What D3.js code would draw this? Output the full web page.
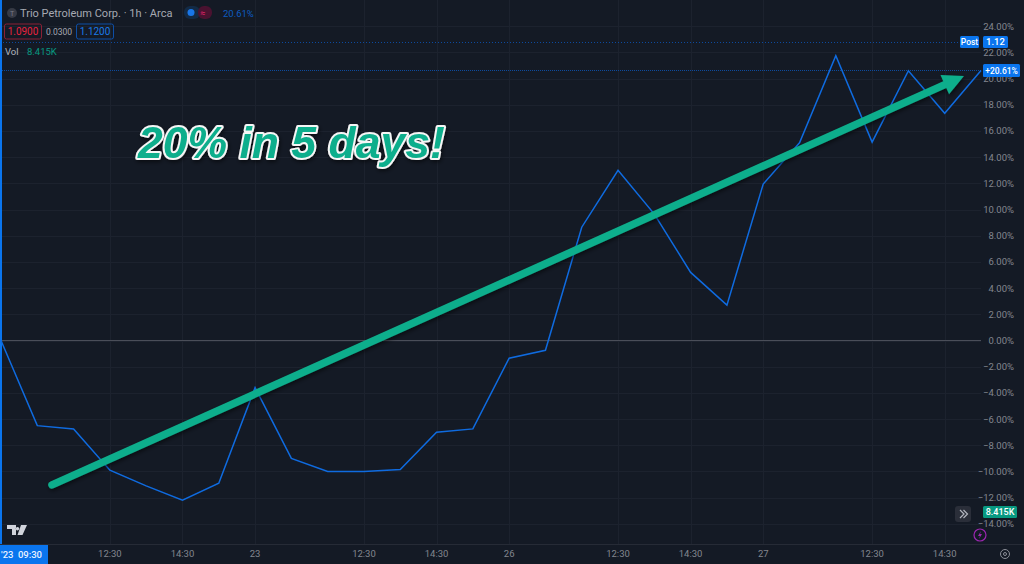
<!DOCTYPE html>
<html><head><meta charset="utf-8">
<script src="https://cdn.jsdelivr.net/npm/d3@7"></script>
<style>html,body{margin:0;padding:0;background:#141a25;overflow:hidden}svg{display:block}text{font-family:"Roboto","Liberation Sans",sans-serif}</style>
</head><body><svg id="c" width="1024" height="564"></svg>
<script>
const pctValues=[0,-6.5,-6.75,-9.9,-11.1,-12.2,-10.9,-3.6,-9,-10,-10,-9.85,-7,-6.75,-1.35,-0.75,8.65,13,9.65,5.2,2.7,11.95,15.1,21.75,15.15,20.6,17.35,20.61];
const yTicks=[24,22,20,18,16,14,12,10,8,6,4,2,0,-2,-4,-6,-8,-10,-12,-14];
const xTickIdx=[3,5,7,10,12,14,17,19,21,24,26];
const xTickLabels=["12:30","14:30","23","12:30","14:30","26","12:30","14:30","27","12:30","14:30"];
const trendIdx=[1.405,26.53], trendPct=[-11.03,20.2];
const titleText="Trio Petroleum Corp. · 1h · Arca";

const svg=d3.select("#c");
const defs=svg.append("defs");
const f=defs.append("filter").attr("id","sh").attr("x","-5%").attr("y","-20%").attr("width","110%").attr("height","140%");
f.append("feDropShadow").attr("dx",1).attr("dy",2).attr("stdDeviation",2).attr("flood-color","#000").attr("flood-opacity",.55);
const x=d3.scaleLinear().domain([0,27]).range([1,981]);
const y=d3.scaleLinear().domain([0,24]).range([340.5,26.2]);
const gridC="#1c222e";
const PW=981,PH=544;

const grid=svg.append("g");
grid.selectAll(".h").data(yTicks).join("line").attr("x1",0).attr("x2",PW).attr("y1",d=>Math.round(y(d))+.5).attr("y2",d=>Math.round(y(d))+.5).attr("stroke",gridC);
grid.selectAll(".v").data(xTickIdx).join("line").attr("y1",0).attr("y2",PH).attr("x1",d=>Math.round(x(d))+.5).attr("x2",d=>Math.round(x(d))+.5).attr("stroke",gridC);
svg.append("line").attr("x1",0).attr("x2",1024).attr("y1",544.5).attr("y2",544.5).attr("stroke","#262b36");

// reference lines
svg.append("line").attr("x1",0).attr("x2",PW).attr("y1",340.5).attr("y2",340.5).attr("stroke","#4a4e59");
svg.append("line").attr("x1",0).attr("x2",PW).attr("y1",70.5).attr("y2",70.5).attr("stroke","#0c4a9e").attr("stroke-dasharray","1 1");
svg.append("line").attr("x1",0).attr("x2",960).attr("y1",42.5).attr("y2",42.5).attr("stroke","#0c4a9e").attr("stroke-dasharray","1 2");
svg.append("rect").attr("x",0).attr("y",0).attr("width",2).attr("height",544).attr("fill","#0a75ee");

// series
svg.append("path").attr("fill","none").attr("stroke","#0f6be0").attr("stroke-width",1.5)
 .attr("d",d3.line().x((d,i)=>x(i)).y(d=>y(d))(pctValues));

// trend arrow
const ax0=x(trendIdx[0]),ay0=y(trendPct[0]),ax1=x(trendIdx[1]),ay1=y(trendPct[1]);
const ang=Math.atan2(ay1-ay0,ax1-ax0),hl=21,hw=10.5;
const bx=ax1-hl*Math.cos(ang),by=ay1-hl*Math.sin(ang);
const sh=svg.append("g").attr("filter","url(#sh)");
sh.append("line").attr("x1",ax0).attr("y1",ay0).attr("x2",bx).attr("y2",by).attr("stroke","#0fae8c").attr("stroke-width",7.5).attr("stroke-linecap","round");
const nx=-Math.sin(ang),ny=Math.cos(ang);
sh.append("path").attr("fill","#0fae8c").attr("d",`M${ax1},${ay1}L${bx+nx*hw},${by+ny*hw}L${bx-nx*hw},${by-ny*hw}Z`);

// annotation
svg.append("text").attr("x",138).attr("y",158).style("font-family","'Liberation Sans'").attr("font-size",44.5).attr("font-weight",700).attr("font-style","italic")
 .attr("fill","#0fae8c").attr("stroke","#f6f6f6").attr("stroke-width",4).attr("paint-order","stroke").attr("stroke-linejoin","round").attr("filter","url(#sh)").text("20% in 5 days!");

// y axis labels
svg.selectAll(".yl").data(yTicks).join("text").attr("x",1014).attr("y",d=>y(d)+3.5).attr("text-anchor","end").attr("font-size",9.5).attr("fill","#83868f")
 .text(d=>(d<0?"−":"")+Math.abs(d).toFixed(2)+"%");
// x axis labels
svg.selectAll(".xl").data(xTickIdx).join("text").attr("x",d=>x(d)).attr("y",557).attr("text-anchor","middle").attr("font-size",9.5).attr("fill","#83868f").text((d,i)=>xTickLabels[i]);
svg.append("rect").attr("x",0).attr("y",545).attr("width",48).attr("height",19).attr("fill","#0a75ee");
svg.append("text").attr("x",13.5).attr("y",558).attr("text-anchor","end").attr("font-size",9.5).attr("font-weight",500).attr("fill","#e8f1ff").text("Jun '23");
svg.append("text").attr("x",42).attr("y",558).attr("text-anchor","end").attr("font-size",9.5).attr("font-weight",500).attr("fill","#e8f1ff").text("09:30");

// price tags
function tag(tx,ty,w,h,fill,t,fs){
 svg.append("rect").attr("x",tx).attr("y",ty).attr("width",w).attr("height",h).attr("rx",1.5).attr("fill",fill);
 svg.append("text").attr("x",tx+w/2).attr("y",ty+h/2+3.2).attr("text-anchor","middle").attr("font-size",fs||9.5).attr("font-weight",500).attr("fill","#fff").text(t);
}
tag(960,36,19,12,"#0a75ee","Post",8.5);
tag(983,36,25,12,"#0a75ee","1.12",9.5);
tag(983,64,37,13,"#0a75ee","+20.61%",8.5);
tag(983,506,34,12,"#089981","8.415K",9);

// header
svg.append("circle").attr("cx",12).attr("cy",13).attr("r",5).attr("fill","#363a45");
svg.append("text").attr("x",12).attr("y",16).attr("text-anchor","middle").attr("font-size",7).attr("fill","#787b86").text("T");
svg.append("text").attr("x",20).attr("y",17).attr("font-size",11).attr("fill","#a6a9b2").text(titleText);
svg.append("rect").attr("x",184).attr("y",6).attr("width",16).attr("height",13).attr("rx",6).attr("fill","#132a45");
svg.append("rect").attr("x",198).attr("y",6).attr("width",14).attr("height",13).attr("rx",6).attr("fill","#4a1230");
svg.append("circle").attr("cx",191).attr("cy",12.5).attr("r",3.5).attr("fill","#1976e8");
svg.append("text").attr("x",203).attr("y",16).attr("text-anchor","middle").attr("font-size",9).attr("fill","#e0246a").text("≈");
svg.append("text").attr("x",223).attr("y",17).attr("font-size",9.5).attr("fill","#0d5cc0").text("20.61%");
svg.append("rect").attr("x",4.5).attr("y",24).attr("width",37).attr("height",15).attr("rx",2).attr("fill","none").attr("stroke","#8a2036");
svg.append("text").attr("x",23).attr("y",35).attr("text-anchor","middle").attr("font-size",10).attr("fill","#e8233f").text("1.0900");
svg.append("text").attr("x",59).attr("y",35).attr("text-anchor","middle").attr("font-size",8.5).attr("fill","#a6a9b2").text("0.0300");
svg.append("rect").attr("x",76.5).attr("y",24).attr("width",37).attr("height",15).attr("rx",2).attr("fill","none").attr("stroke","#0d4ea6");
svg.append("text").attr("x",95).attr("y",35).attr("text-anchor","middle").attr("font-size",10).attr("fill","#1a7ae8").text("1.1200");
svg.append("text").attr("x",5).attr("y",55).attr("font-size",9.5).attr("fill","#b2b5be").text("Vol");
svg.append("text").attr("x",27).attr("y",55).attr("font-size",9.5).attr("fill","#089981").text("8.415K");

// TV logo
svg.append("path").attr("fill","#d1d4dc").attr("d","M7 525h9v10h-4v-6h-5zM21 525h6l-4.5 10h-5zM17.5 527a1.7 1.7 0 1 0 .01 0z");
// scroll button
svg.append("rect").attr("x",955).attr("y",506).attr("width",16).attr("height",16).attr("rx",3).attr("fill","#2a2e39");
svg.append("path").attr("fill","none").attr("stroke","#b2b5be").attr("stroke-width",1.2).attr("d","M960 510l4 4-4 4M963.5 510l4 4-4 4");
// bolt & settings
svg.append("circle").attr("cx",980).attr("cy",535).attr("r",6).attr("fill","none").attr("stroke","#9c27b0").attr("stroke-width",1.2);
svg.append("path").attr("fill","#9c27b0").attr("d","M981 531l-3 5h2l-1 3 3-5h-2z");
svg.append("circle").attr("cx",1005).attr("cy",554).attr("r",4.5).attr("fill","none").attr("stroke","#8b8e97");
svg.append("circle").attr("cx",1005).attr("cy",554).attr("r",1.5).attr("fill","none").attr("stroke","#8b8e97");
</script></body></html>
